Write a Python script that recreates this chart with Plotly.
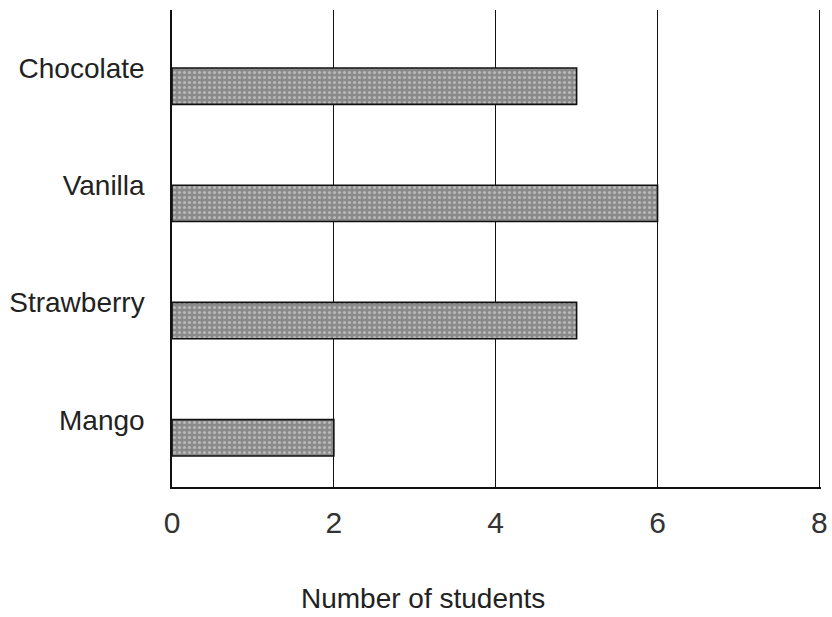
import plotly.graph_objects as go

flavours = ["Mango", "Strawberry", "Vanilla", "Chocolate"]
students = [2, 5, 6, 5]
x_ticks = [0, 2, 4, 6, 8]
x_title = "Number of students"

fig = go.Figure()
fig.add_trace(go.Bar(
    y=flavours, x=students, orientation="h", width=0.31,
    marker=dict(color="#8a8a8a",
                line=dict(color="#111", width=1.6),
                pattern=dict(shape=".", fgcolor="#e6e6e6", size=5, solidity=0.3)),
))

fig.update_layout(
    width=832, height=617,
    margin=dict(l=172, r=11, t=10, b=130),
    paper_bgcolor="white", plot_bgcolor="white",
    showlegend=False,
    font=dict(family="Liberation Sans, Arial, sans-serif", color="#222"),
)
fig.update_xaxes(
    range=[0, 8.02], tickvals=x_ticks, ticktext=[str(v) for v in x_ticks],
    showgrid=True, gridcolor="#111", gridwidth=1.3,
    showline=True, linecolor="#111", linewidth=1.5,
    zeroline=False, ticks="", tickfont=dict(size=30, color="#333"),
    ticklabelstandoff=8, automargin=False,
)
fig.update_yaxes(
    categoryorder="array", categoryarray=flavours, range=[-0.42, 3.65],
    showgrid=False, showline=True, linecolor="#111", linewidth=1.5,
    ticks="", tickfont=dict(size=28, color="#222"),
    ticklabelstandoff=20, ticklabelshift=-18, automargin=False,
)
fig.add_annotation(
    text=x_title, xref="paper", yref="paper", x=0.387, y=0,
    xanchor="center", yanchor="middle", yshift=-111, showarrow=False,
    font=dict(size=28, color="#222"),
)

fig.write_html(
    "out.html",
    config={"displayModeBar": False},
    post_script="document.body.style.margin='0';document.body.style.overflow='hidden';",
)
